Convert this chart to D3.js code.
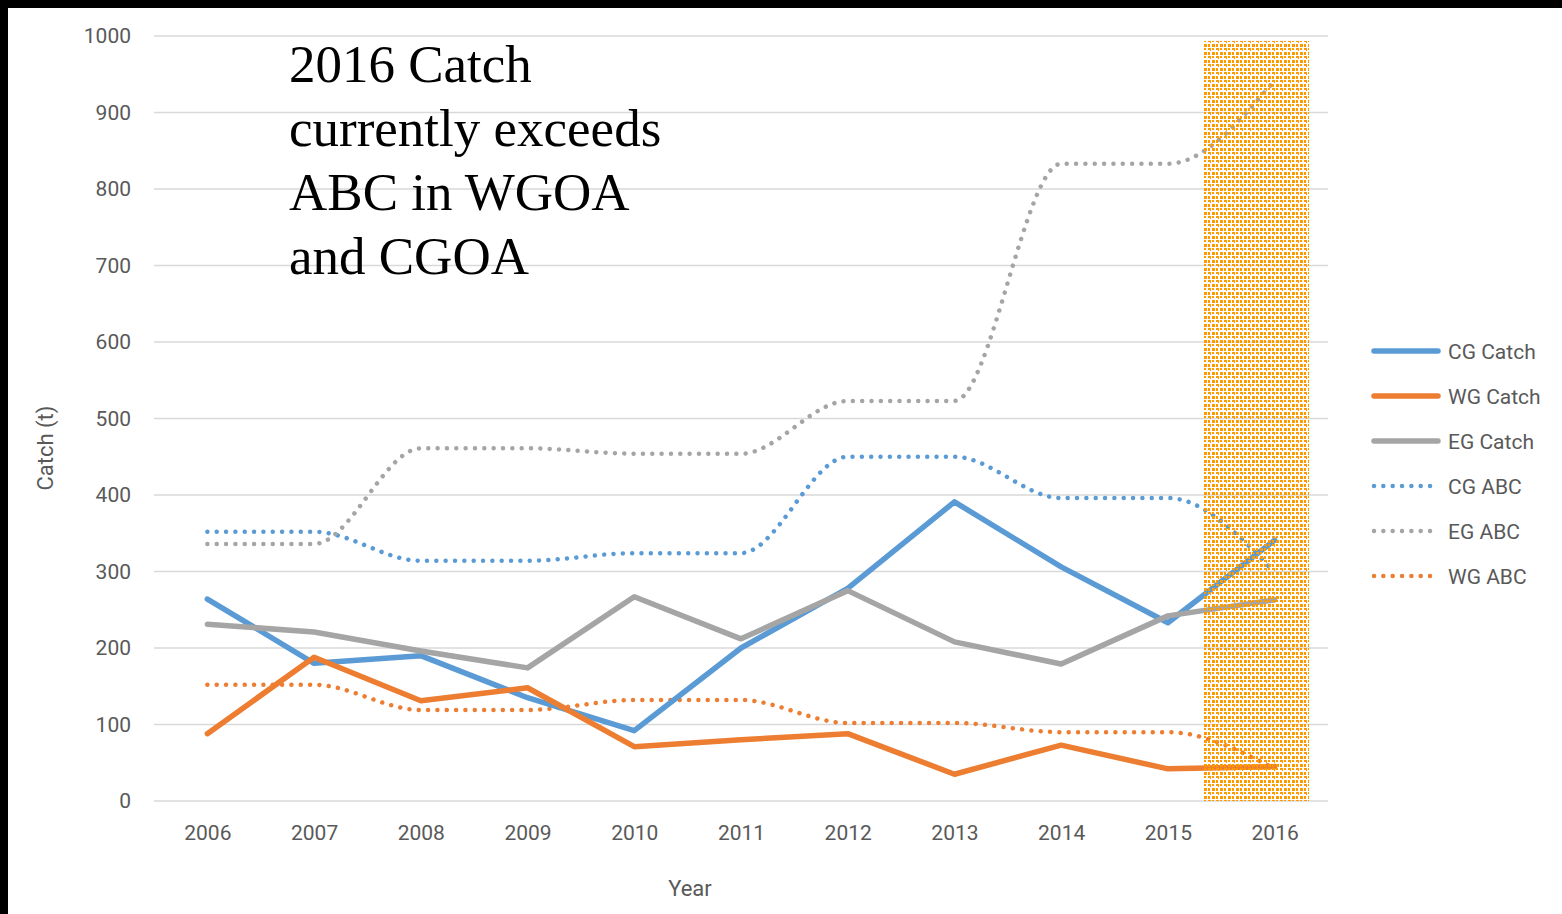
<!DOCTYPE html>
<html>
<head>
<meta charset="utf-8">
<script src="https://cdn.jsdelivr.net/npm/d3@7"></script>
<style>
  body { margin: 0; background: #000; }
  svg { display: block; }
  .tick-label { font-family: "Roboto", sans-serif; fill: #595959; }
</style>
</head>
<body>
<script>
// Width and height
var w = 1562;
var h = 914;

// chart data (tonnes)
var years = [2006, 2007, 2008, 2009, 2010, 2011, 2012, 2013, 2014, 2015, 2016];
var cgCatch = [264, 180, 190, 135, 92, 200, 278, 391, 306, 233, 341];
var wgCatch = [88, 188, 131, 148, 71, 80, 88, 35, 73, 42, 45];
var egCatch = [231, 221, 196, 174, 267, 212, 275, 208, 179, 242, 263];
var cgABC = [352, 352, 314, 314, 324, 324, 450, 450, 396, 396, 299];
var egABC = [336, 336, 461, 461, 454, 454, 523, 523, 833, 833, 942];
var wgABC = [152, 152, 119, 119, 132, 132, 102, 102, 90, 90, 42];
var yTicks = [0, 100, 200, 300, 400, 500, 600, 700, 800, 900, 1000];
var noteLines = ["2016 Catch", "currently exceeds", "ABC in WGOA", "and CGOA"];

var seriesNames = ["CG Catch", "WG Catch", "EG Catch", "CG ABC", "EG ABC", "WG ABC"];
var seriesValues = [cgCatch, wgCatch, egCatch, cgABC, egABC, wgABC];
var seriesColors = ["#5B9BD5", "#ED7D31", "#A5A5A5", "#5B9BD5", "#A5A5A5", "#ED7D31"];
var seriesDotted = [false, false, false, true, true, true];

var series = seriesNames.map(function(name, i) {
    return {name: name, values: seriesValues[i], color: seriesColors[i], dotted: seriesDotted[i]};
});

var svg = d3.select("body")
            .append("svg")
            .attr("width", w)
            .attr("height", h);

// slide frame: black edge, white chart area
svg.append("rect")
   .attr("x", 8).attr("y", 8)
   .attr("width", w - 8).attr("height", h - 8)
   .attr("fill", "#fff");

// scales
var x = d3.scalePoint()
          .domain(years)
          .range([154, 1328])
          .padding(0.5);

var y = d3.scaleLinear()
          .domain([0, 1000])
          .range([801, 36]);

// gridlines
svg.append("g")
   .selectAll("line")
   .data(yTicks)
   .enter()
   .append("line")
   .attr("x1", 154).attr("x2", 1328)
   .attr("y1", function(d){ return y(d); })
   .attr("y2", function(d){ return y(d); })
   .attr("stroke", "#D9D9D9")
   .attr("stroke-width", 1.5);

// y tick labels
var yAxis = d3.axisLeft(y).tickValues(yTicks).tickFormat(d3.format("d")).tickSize(0).tickPadding(0);
var yg = svg.append("g")
   .attr("transform", "translate(131,0)")
   .call(yAxis);
yg.select(".domain").remove();
yg.selectAll("text")
  .attr("class", "tick-label")
  .style("font-size", "21px");

// x tick labels
var xAxis = d3.axisBottom(x).tickSize(0).tickPadding(0);
var xg = svg.append("g")
   .attr("transform", "translate(0,825)")
   .call(xAxis);
xg.select(".domain").remove();
xg.selectAll("text")
  .attr("class", "tick-label")
  .style("font-size", "21px");

// axis titles
svg.append("text")
   .attr("class", "tick-label")
   .attr("transform", "translate(53,448) rotate(-90)")
   .attr("text-anchor", "middle")
   .style("font-size", "22px")
   .text("Catch (t)");

svg.append("text")
   .attr("class", "tick-label")
   .attr("x", 690).attr("y", 896)
   .attr("text-anchor", "middle")
   .style("font-size", "22px")
   .text("Year");

// lines - ABC lines smoothed like the spreadsheet
var line = d3.line()
             .x(function(d, i){ return x(years[i]); })
             .y(function(d){ return y(d); })
             .curve(d3.curveMonotoneX);

var straight = d3.line()
             .x(function(d, i){ return x(years[i]); })
             .y(function(d){ return y(d); });

// draw dotted ABC lines first, then catch lines on top
var order = [3, 4, 5, 0, 1, 2];
svg.append("g")
   .selectAll("path")
   .data(order.map(function(i){ return series[i]; }))
   .enter()
   .append("path")
   .attr("d", function(d){ return d.dotted ? line(d.values) : straight(d.values); })
   .attr("fill", "none")
   .attr("stroke", function(d){ return d.color; })
   .attr("stroke-width", function(d){ return d.dotted ? 4.5 : 5.5; })
   .attr("stroke-linecap", "round")
   .attr("stroke-linejoin", "round")
   .attr("stroke-dasharray", function(d){ return d.dotted ? "0.01 9.33" : null; });

// orange highlight over 2016 (pattern fill)
var defs = svg.append("defs");
var pat = defs.append("pattern")
   .attr("id", "hatch")
   .attr("patternUnits", "userSpaceOnUse")
   .attr("width", 8).attr("height", 8);
[[0,0,3,2],[4,0,2,2],[0,4,2,3],[4,4,3,3],[2,2,1,1],[6,6,1,1]].forEach(function(p){
    pat.append("rect")
       .attr("x", p[0]).attr("y", p[1])
       .attr("width", p[2]).attr("height", p[3])
       .attr("fill", "#FF9900");
});

var step = x.step();
svg.append("rect")
   .attr("x", x(2015) + step * 0.34)
   .attr("y", y(994))
   .attr("width", step * 0.98)
   .attr("height", y(0) - y(994))
   .attr("fill", "url(#hatch)")
   .attr("shape-rendering", "crispEdges");

// annotation
svg.append("g")
   .selectAll("text")
   .data(noteLines)
   .enter()
   .append("text")
   .attr("x", 289)
   .attr("y", function(d, i){ return 82 + i * 64; })
   .style("font-family", "'Liberation Serif', 'Times New Roman', serif")
   .style("font-size", "53px")
   .attr("fill", "#000")
   .text(function(d){ return d; });

// legend
var legend = svg.append("g")
   .selectAll("g")
   .data(series)
   .enter()
   .append("g")
   .attr("transform", function(d, i){
       return "translate(1372," + (351 + i * 45) + ")";
   });

legend.append("line")
      .attr("x1", 2).attr("x2", 66)
      .attr("y1", 0).attr("y2", 0)
      .attr("stroke", function(d){ return d.color; })
      .attr("stroke-width", function(d){ return d.dotted ? 4.5 : 5.5; })
      .attr("stroke-linecap", "round")
      .attr("stroke-dasharray", function(d){ return d.dotted ? "0.01 9.33" : null; });

legend.append("text")
      .attr("class", "tick-label")
      .attr("x", 76)
      .attr("y", 8)
      .style("font-size", "21px")
      .text(function(d){ return d.name; });
</script>
</body>
</html>
